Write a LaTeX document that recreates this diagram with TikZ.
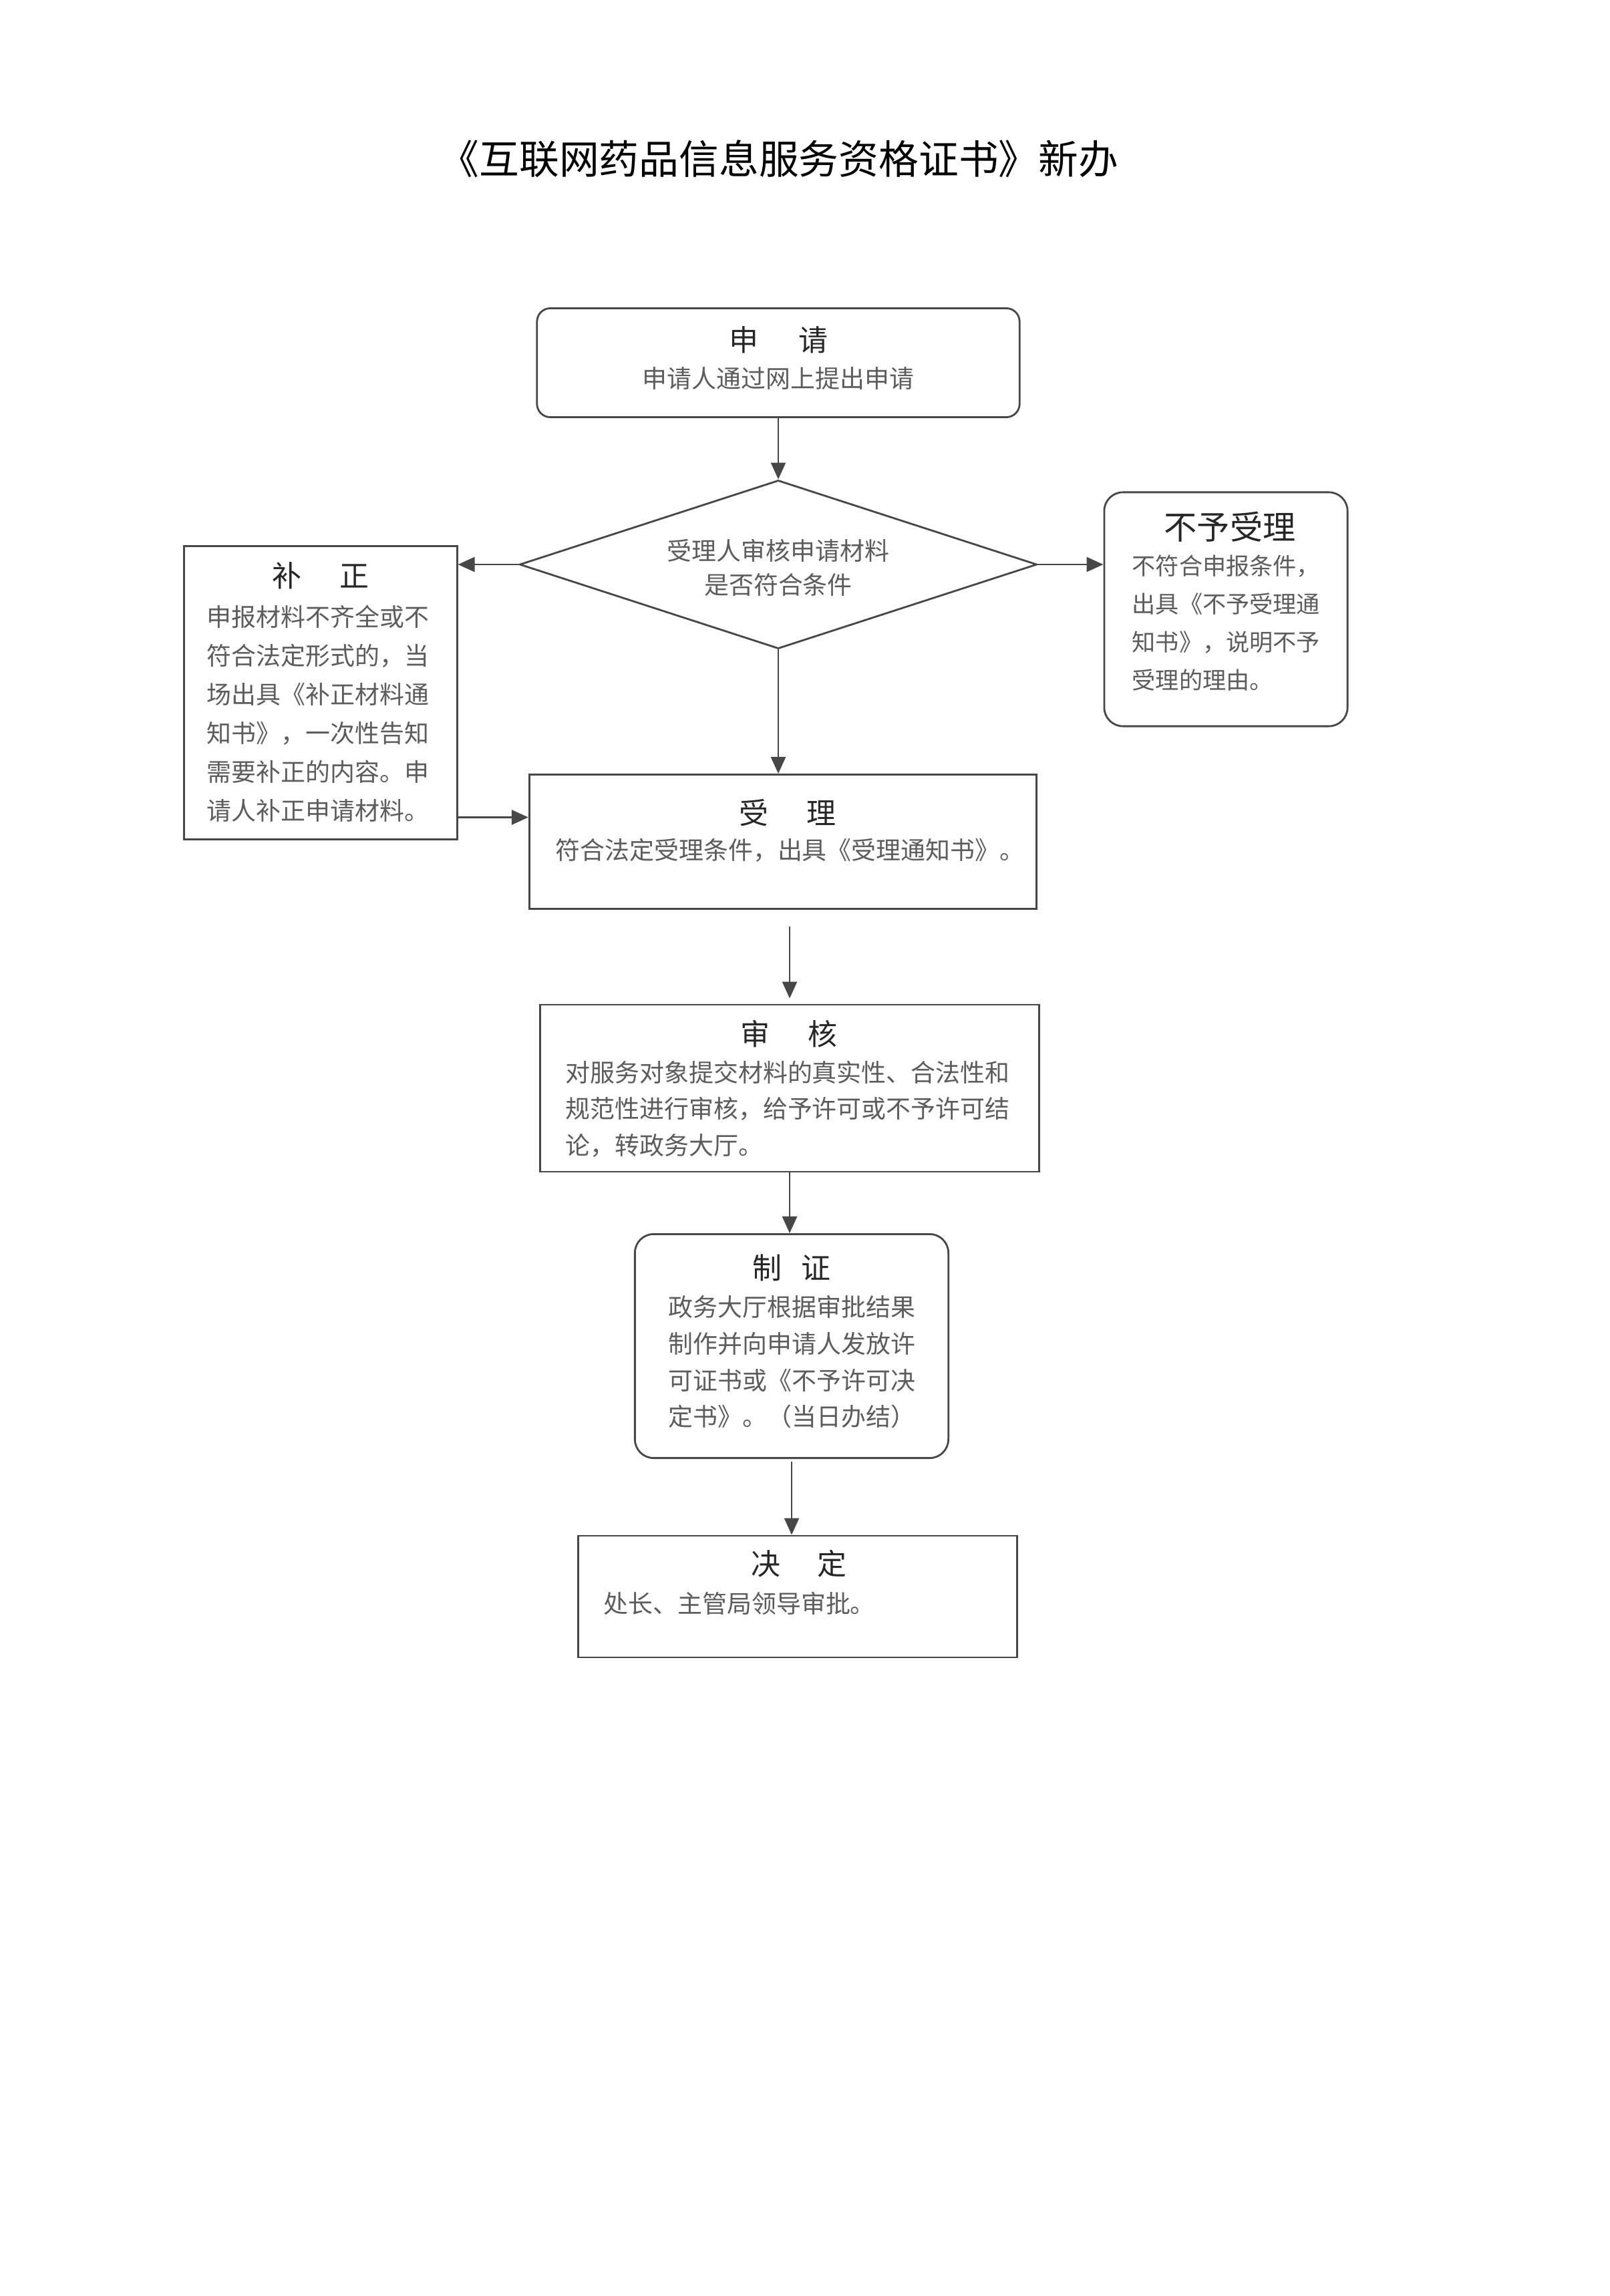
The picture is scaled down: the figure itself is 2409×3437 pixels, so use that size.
\documentclass[tikz,border=0pt]{standalone}
\usepackage{fontspec}
\setmainfont{Noto Sans CJK SC}
\usetikzlibrary{shapes.geometric,arrows.meta}
\definecolor{linegray}{gray}{0.28}
\definecolor{txtgray}{gray}{0.36}
\definecolor{ttlgray}{gray}{0.15}
\tikzset{
  box/.style={draw=linegray,line width=0.8pt,inner sep=0pt},
  rbox/.style={box,rounded corners=0.28cm},
  ttl/.style={text=ttlgray,font=\fontsize{12.5pt}{14pt}\selectfont,inner sep=0pt},
  body/.style={text=txtgray,font=\fontsize{10.5pt}{16.5pt}\selectfont,align=left,anchor=north west,inner sep=0pt},
  arr/.style={draw=linegray,line width=0.8pt,-{Triangle[length=0.25cm,width=0.22cm]}}
}
\begin{document}
\begin{tikzpicture}[x=0.01cm,y=-0.01cm]
\useasboundingbox (0,0) rectangle (2409,3437);
\node[font=\fontsize{17pt}{20pt}\selectfont,inner sep=0pt] (title) at (1166,238) {《互联网药品信息服务资格证书》新办};

\node[rbox,rounded corners=0.2cm,minimum width=7.22cm,minimum height=1.63cm] (shenqing) at (1165,543) {};
\node[ttl] (shenqing-t) at (1165,509) {申\hspace{0.6cm}请};
\node[body,anchor=center] (shenqing-b) at (1165,566) {申请人通过网上提出申请};

\node[diamond,box,minimum width=7.74cm,minimum height=2.52cm] (check) at (1165,845) {};
\node[body,anchor=center,align=center,font=\fontsize{10.5pt}{14.5pt}\selectfont] (check-b) at (1165,850) {受理人审核申请材料\\是否符合条件};

\node[box,minimum width=4.08cm,minimum height=4.38cm] (buzheng) at (480,1037) {};
\node[ttl] (buzheng-t) at (480,862) {补\hspace{0.57cm}正};
\node[body] (buzheng-b) at (309,905) {申报材料不齐全或不\\符合法定形式的，当\\场出具《补正材料通\\知书》，一次性告知\\需要补正的内容。申\\请人补正申请材料。};

\node[rbox,minimum width=3.64cm,minimum height=3.5cm] (buyu) at (1835,912) {};
\node[ttl,font=\fontsize{14pt}{16pt}\selectfont] (buyu-t) at (1841,789) {不予受理};
\node[body,font=\fontsize{10pt}{16.2pt}\selectfont] (buyu-b) at (1694,830) {不符合申报条件，\\出具《不予受理通\\知书》，说明不予\\受理的理由。};

\node[box,minimum width=7.59cm,minimum height=2.01cm] (shouli) at (1172,1260) {};
\node[ttl] (shouli-t) at (1179,1217) {受\hspace{0.57cm}理};
\node[body] (shouli-b) at (831,1255) {符合法定受理条件，出具《受理通知书》。};

\node[box,minimum width=7.47cm,minimum height=2.5cm] (shenhe) at (1182,1629) {};
\node[ttl] (shenhe-t) at (1181,1548) {审\hspace{0.57cm}核};
\node[body,font=\fontsize{10.5pt}{15.5pt}\selectfont] (shenhe-b) at (846,1587) {对服务对象提交材料的真实性、合法性和\\规范性进行审核，给予许可或不予许可结\\论，转政务大厅。};

\node[rbox,minimum width=4.69cm,minimum height=3.35cm] (zhizheng) at (1185,2015) {};
\node[ttl] (zhizheng-t) at (1185,1898) {制\hspace{0.3cm}证};
\node[body,font=\fontsize{10.5pt}{15.5pt}\selectfont] (zhizheng-b) at (1000,1939) {政务大厅根据审批结果\\制作并向申请人发放许\\可证书或《不予许可决\\定书》。（当日办结）};

\node[box,minimum width=6.57cm,minimum height=1.82cm] (jueding) at (1194,2390) {};
\node[ttl] (jueding-t) at (1196,2341) {决\hspace{0.55cm}定};
\node[body] (jueding-b) at (903,2382) {处长、主管局领导审批。};

\coordinate (bz-out) at ([yshift=0.34cm]buzheng.south east);
\draw[arr] (shenqing.south) -- (check.north);
\draw[arr] (check.west) -- (check.west -| buzheng.east);
\draw[arr] (check.east) -- (check.east -| buyu.west);
\draw[arr] (check.south) -- (check.south |- shouli.north);
\draw[arr] (bz-out) -- (bz-out -| shouli.west);
\draw[arr,shorten <=0.25cm,shorten >=0.08cm] (shouli.south -| shenhe.north) -- (shenhe.north);
\draw[arr] (shenhe.south) -- (shenhe.south |- zhizheng.north);
\draw[arr,shorten <=0.04cm] (zhizheng.south) -- (zhizheng.south |- jueding.north);
\end{tikzpicture}
\end{document}
